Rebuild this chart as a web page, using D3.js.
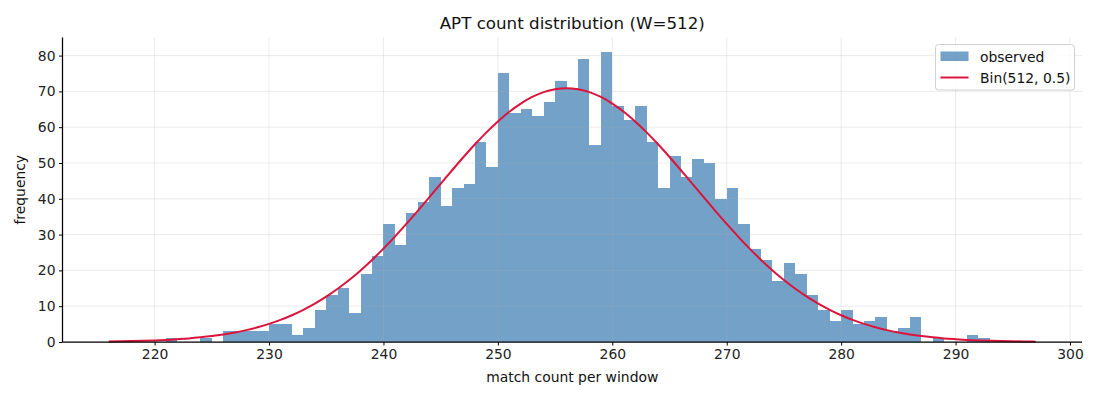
<!DOCTYPE html>
<html>
<head>
<meta charset="utf-8">
<script src="https://cdn.jsdelivr.net/npm/d3@7"></script>
<style>
  body { margin: 0; background: #fff; }
  svg { font-family: "DejaVu Sans", sans-serif; }
</style>
</head>
<body>
<svg id="canvas" width="1100" height="400"></svg>
<script>
// histogram counts, one bar per integer bin [k, k+1)
const binStart = 216;
const counts = [
  0, 0, 0, 0, 0, 1, 0, 0, 1, 0,          // 216-225
  3, 3, 3, 3, 5, 5, 2, 4, 9, 13,         // 226-235
  15, 8, 19, 24, 33, 27, 36, 39, 46, 38, // 236-245
  43, 44, 56, 49, 75, 64, 65, 63, 67, 73, // 246-255
  71, 79, 55, 81, 66, 62, 66, 56, 43, 52, // 256-265
  46, 51, 50, 40, 43, 33, 26, 23, 17, 22, // 266-275
  19, 13, 9, 6, 9, 5, 6, 7, 3, 4,         // 276-285
  7, 0, 1, 0, 0, 2, 1, 0, 0, 0, 0          // 286-296
];

// expected curve, at k = 216..297
const curveStart = 216;
const curve = [
  0.14, 0.19, 0.25, 0.34, 0.45, 0.59, 0.78, 1.0, 1.3, 1.66,
  2.11, 2.66, 3.32, 4.11, 5.06, 6.17, 7.47, 8.98, 10.71, 12.66,
  14.86, 17.31, 20.0, 22.93, 26.08, 29.44, 32.98, 36.64, 40.4, 44.19,
  47.97, 51.67, 55.22, 58.55, 61.6, 64.31, 66.6, 68.45, 69.8, 70.62,
  70.9,
  70.62, 69.8, 68.45, 66.6, 64.31, 61.6, 58.55, 55.22, 51.67, 47.97,
  44.19, 40.4, 36.64, 32.98, 29.44, 26.08, 22.93, 20.0, 17.31, 14.86,
  12.66, 10.71, 8.98, 7.47, 6.17, 5.06, 4.11, 3.32, 2.66, 2.11,
  1.66, 1.3, 1.0, 0.78, 0.59, 0.45, 0.34, 0.25, 0.19, 0.14, 0.1
];

const xTicks = [220, 230, 240, 250, 260, 270, 280, 290, 300];
const yTicks = [0, 10, 20, 30, 40, 50, 60, 70, 80];

const svg = d3.select("#canvas");
const margin = {left: 62.5, right: 18, top: 37.5, bottom: 58};
const W = 1100, H = 400;
const iw = W - margin.left - margin.right;
const ih = H - margin.top - margin.bottom;

const x = d3.scaleLinear().domain([211.95, 301.05]).range([0, iw]);
const y = d3.scaleLinear().domain([0, 85.05]).range([ih, 0]);

const g = svg.append("g").attr("transform", `translate(${margin.left},${margin.top})`);

// bars
g.selectAll("rect.bar")
  .data(counts.map((c, i) => ({k: binStart + i, c: c})))
  .enter().append("rect")
  .attr("class", "bar")
  .attr("x", d => x(d.k))
  .attr("width", d => x(d.k + 1) - x(d.k))
  .attr("y", d => y(d.c))
  .attr("height", d => ih - y(d.c))
  .attr("fill", "steelblue")
  .attr("fill-opacity", 0.75)
  .attr("shape-rendering", "crispEdges");

// grid (drawn over bars, like matplotlib)
const grid = g.append("g");
grid.selectAll("line.gx").data(xTicks).enter().append("line")
  .attr("x1", d => x(d)).attr("x2", d => x(d))
  .attr("y1", 0).attr("y2", ih)
  .attr("stroke", "#b0b0b0").attr("stroke-opacity", 0.3).attr("stroke-width", 0.8);
grid.selectAll("line.gy").data(yTicks).enter().append("line")
  .attr("y1", d => y(d)).attr("y2", d => y(d))
  .attr("x1", 0).attr("x2", iw)
  .attr("stroke", "#b0b0b0").attr("stroke-opacity", 0.3).attr("stroke-width", 0.8);

// expected curve
const line = d3.line()
  .x((d, i) => x(curveStart + i))
  .y(d => y(d))
  .curve(d3.curveMonotoneX);
g.append("path")
  .datum(curve)
  .attr("d", line)
  .attr("fill", "none")
  .attr("stroke", "crimson")
  .attr("stroke-width", 2);

// axes
const xAxis = g.append("g")
  .attr("transform", `translate(0,${ih})`)
  .call(d3.axisBottom(x).tickValues(xTicks).tickSize(3.5).tickPadding(3.5));
const yAxis = g.append("g")
  .call(d3.axisLeft(y).tickValues(yTicks).tickSize(3.5).tickPadding(3.5));

[xAxis, yAxis].forEach(a => {
  a.select(".domain").attr("stroke", "#000").attr("stroke-width", 1.25);
  a.selectAll(".tick line").attr("stroke", "#000").attr("stroke-width", 1);
  a.selectAll(".tick text")
    .attr("font-family", "DejaVu Sans")
    .attr("font-size", 13.9)
    .attr("fill", "#222");
});
// remove end caps of the domain path so only the spine remains
xAxis.select(".domain").attr("d", `M0,0H${iw}`);
yAxis.select(".domain").attr("d", `M0,0V${ih}`);

// title and labels
svg.append("text")
  .attr("x", margin.left + iw / 2).attr("y", 29)
  .attr("text-anchor", "middle")
  .attr("font-size", 16.7).attr("fill", "#111")
  .text("APT count distribution (W=512)");

svg.append("text")
  .attr("x", margin.left + iw / 2).attr("y", 382)
  .attr("text-anchor", "middle")
  .attr("font-size", 13.9).attr("fill", "#111")
  .text("match count per window");

svg.append("text")
  .attr("transform", `translate(25,${margin.top + ih / 2}) rotate(-90)`)
  .attr("text-anchor", "middle")
  .attr("font-size", 13.9).attr("fill", "#111")
  .text("frequency");

// legend
const lg = svg.append("g").attr("transform", "translate(935.5,44.5)");
lg.append("rect")
  .attr("width", 139).attr("height", 45.5)
  .attr("rx", 3)
  .attr("fill", "#fff").attr("fill-opacity", 0.8)
  .attr("stroke", "#d0d0d0");
lg.append("rect")
  .attr("x", 5).attr("y", 7)
  .attr("width", 28).attr("height", 9.5)
  .attr("fill", "steelblue").attr("fill-opacity", 0.75);
lg.append("line")
  .attr("x1", 5).attr("x2", 33)
  .attr("y1", 33).attr("y2", 33)
  .attr("stroke", "crimson").attr("stroke-width", 2);
lg.append("text")
  .attr("x", 44.5).attr("y", 17)
  .attr("font-size", 13.9).attr("fill", "#111")
  .text("observed");
lg.append("text")
  .attr("x", 44.5).attr("y", 38)
  .attr("font-size", 13.9).attr("fill", "#111")
  .text("Bin(512, 0.5)");
</script>
</body>
</html>
